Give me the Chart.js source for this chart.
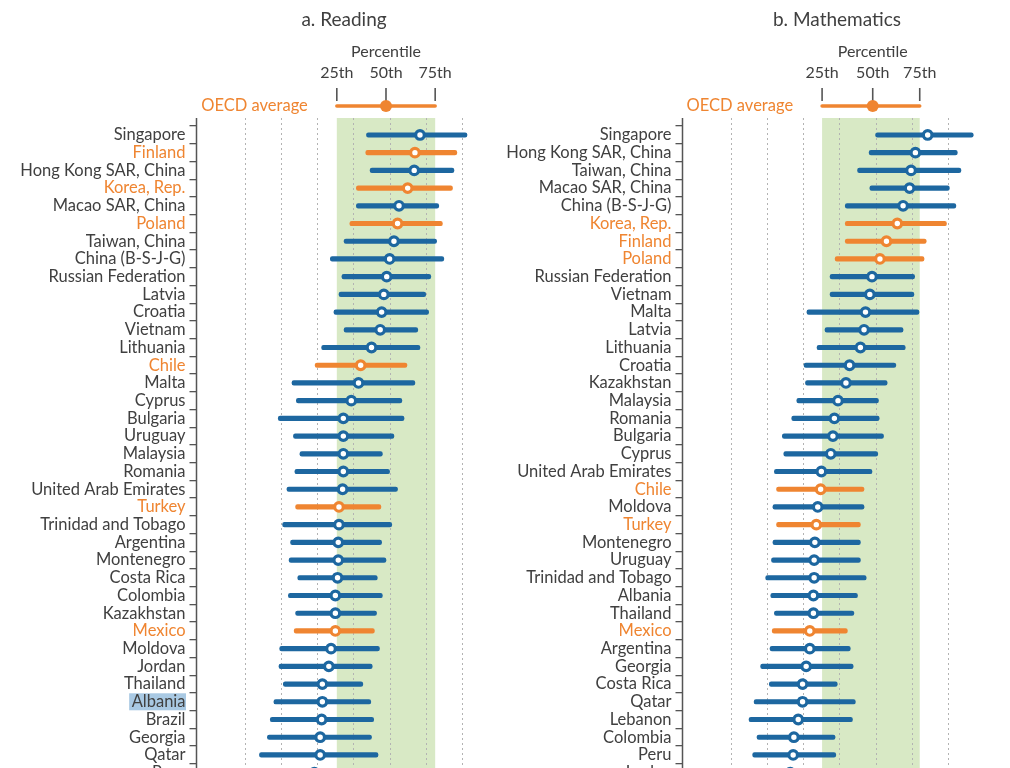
<!DOCTYPE html>
<html>
<head>
<meta charset="utf-8">
<title>Reading and mathematics score distributions</title>
<script src="https://cdn.jsdelivr.net/npm/chart.js@4.4.1/dist/chart.umd.min.js"></script>
<style>
  html, body { margin: 0; padding: 0; background: #fff; overflow: hidden; }
  #page { position: relative; width: 1010px; height: 768px; overflow: hidden; }
  .panel { position: absolute; top: 0; height: 800px; }
  #readingBox { left: 0; width: 490px; }
  #mathBox { left: 490px; width: 520px; }
</style>
</head>
<body>
<div id="page">
  <div class="panel" id="readingBox"><canvas id="reading"></canvas></div>
  <div class="panel" id="mathBox"><canvas id="math"></canvas></div>
</div>
<script>
// a. Reading - 25th, 50th, 75th percentile scores
const readingCountries = [
  "Singapore", "Finland", "Hong Kong SAR, China", "Korea, Rep.", "Macao SAR, China",
  "Poland", "Taiwan, China", "China (B-S-J-G)", "Russian Federation", "Latvia",
  "Croatia", "Vietnam", "Lithuania", "Chile", "Malta", "Cyprus", "Bulgaria",
  "Uruguay", "Malaysia", "Romania", "United Arab Emirates", "Turkey",
  "Trinidad and Tobago", "Argentina", "Montenegro", "Costa Rica", "Colombia",
  "Kazakhstan", "Mexico", "Moldova", "Jordan", "Thailand", "Albania", "Brazil",
  "Georgia", "Qatar", "Peru"
];
const readingP25 = [468, 467, 473, 454, 454, 445, 437, 418, 434, 430, 423, 437, 406, 397, 365, 371, 346, 367, 376, 369, 358, 370, 352, 363, 361, 373, 360, 370, 368, 348, 347, 353, 340, 335, 331, 320, 330];
const readingP50 = [542, 535, 534, 525, 513, 511, 506, 500, 496, 492, 489, 487, 475, 460, 457, 447, 436, 436, 436, 436, 435, 430, 430, 429, 429, 428, 425, 425, 425, 419, 416, 407, 407, 406, 404, 404, 396];
const readingP75 = [607, 593, 589, 587, 568, 573, 565, 575, 557, 550, 554, 539, 542, 524, 535, 517, 520, 506, 490, 500, 511, 488, 503, 489, 495, 483, 490, 482, 479, 486, 476, 463, 474, 478, 475, 484, 462];

// b. Mathematics
const mathCountries = [
  "Singapore", "Hong Kong SAR, China", "Taiwan, China", "Macao SAR, China",
  "China (B-S-J-G)", "Korea, Rep.", "Finland", "Poland", "Russian Federation",
  "Vietnam", "Malta", "Latvia", "Lithuania", "Croatia", "Kazakhstan", "Malaysia",
  "Romania", "Bulgaria", "Cyprus", "United Arab Emirates", "Chile", "Moldova",
  "Turkey", "Montenegro", "Uruguay", "Trinidad and Tobago", "Albania", "Thailand",
  "Mexico", "Argentina", "Georgia", "Costa Rica", "Qatar", "Lebanon", "Colombia",
  "Peru", "Jordan"
];
const mathP25 = [500, 491, 475, 492, 458, 458, 458, 444, 437, 437, 405, 430, 419, 401, 403, 391, 384, 371, 373, 360, 363, 358, 363, 358, 356, 348, 355, 360, 357, 354, 341, 353, 332, 325, 336, 330, 330];
const mathP50 = [572, 555, 549, 547, 538, 530, 515, 506, 495, 492, 486, 484, 479, 464, 459, 448, 443, 441, 438, 425, 424, 420, 418, 416, 415, 415, 414, 414, 409, 409, 404, 399, 399, 393, 387, 386, 382];
const mathP75 = [635, 613, 618, 602, 611, 598, 570, 567, 554, 553, 560, 538, 541, 528, 516, 504, 505, 511, 503, 495, 484, 484, 479, 479, 479, 487, 475, 470, 461, 465, 469, 447, 472, 468, 444, 445, 432];

// OECD average percentiles (25th, 50th, 75th)
const oecdReading = [427, 495, 563];
const oecdMath = [426, 496, 561];
const percentileLabels = ["25th", "50th", "75th"];
const gridScores = [300, 350, 400, 450, 500, 550, 600];

const oecdMembers = ["Finland", "Korea, Rep.", "Poland", "Chile", "Turkey", "Mexico"];
const highlighted = ["Albania"];

const BLUE = "#1d67a0";
const ORANGE = "#ef8531";
const GREEN = "#d8e9c5";
const TEXT = "#404040";
const FONT = "Lato, 'Noto Sans', sans-serif";
const LABEL_SIZE = 16.5;

const panelDecor = {
  id: "panelDecor",
  beforeDraw(chart, args, opts) {
    // selection highlight behind some labels
    const { ctx, scales: { y } } = chart;
    ctx.save();
    ctx.font = LABEL_SIZE + "px " + FONT;
    opts.countries.forEach((name, i) => {
      if (!opts.highlight.includes(name)) return;
      const w = ctx.measureText(name).width;
      const py = y.getPixelForValue(i);
      const right = chart.chartArea.left - 11.5;
      ctx.fillStyle = "#a9c9e3";
      ctx.fillRect(right - w - 2, py - 8.5, w + 3, 17);
    });
    ctx.restore();
  },
  beforeDatasetsDraw(chart, args, opts) {
    const { ctx, chartArea, scales: { x } } = chart;
    const top = opts.frameTop;
    const bottom = chartArea.bottom;
    ctx.save();
    // OECD interquartile band
    const x25 = x.getPixelForValue(opts.oecd[0]);
    const x75 = x.getPixelForValue(opts.oecd[2]);
    ctx.fillStyle = GREEN;
    ctx.fillRect(x25, top, x75 - x25, bottom - top);
    // dotted vertical grid
    ctx.strokeStyle = "#b3b3b3";
    ctx.lineWidth = 1;
    ctx.setLineDash([2, 3]);
    gridScores.forEach((v) => {
      const px = Math.round(x.getPixelForValue(v)) + 0.5;
      ctx.beginPath();
      ctx.moveTo(px, top);
      ctx.lineTo(px, bottom);
      ctx.stroke();
    });
    // y axis line
    ctx.setLineDash([]);
    ctx.strokeStyle = "#555";
    ctx.lineWidth = 1.5;
    ctx.beginPath();
    ctx.moveTo(chartArea.left, top);
    ctx.lineTo(chartArea.left, bottom);
    ctx.stroke();
    ctx.restore();
  },
  afterDraw(chart, args, opts) {
    const { ctx, scales: { x } } = chart;
    const px = opts.oecd.map((v) => x.getPixelForValue(v));
    ctx.save();
    ctx.fillStyle = TEXT;
    ctx.textAlign = "center";
    ctx.textBaseline = "middle";
    ctx.font = "19px " + FONT;
    ctx.fillText(opts.title, opts.titleX, 20);
    ctx.font = "16px " + FONT;
    ctx.fillText("Percentile", px[1], 52);
    percentileLabels.forEach((t, i) => ctx.fillText(t, px[i], 73));
    // percentile ticks
    ctx.strokeStyle = "#555";
    ctx.lineWidth = 1.6;
    px.forEach((p) => {
      ctx.beginPath();
      ctx.moveTo(p, 88);
      ctx.lineTo(p, 101);
      ctx.stroke();
    });
    // OECD average range
    ctx.strokeStyle = ORANGE;
    ctx.lineWidth = 3.5;
    ctx.lineCap = "round";
    ctx.beginPath();
    ctx.moveTo(px[0], 106);
    ctx.lineTo(px[2], 106);
    ctx.stroke();
    ctx.fillStyle = ORANGE;
    ctx.beginPath();
    ctx.arc(px[1], 106, 6, 0, Math.PI * 2);
    ctx.fill();
    ctx.font = "16.5px " + FONT;
    ctx.textAlign = "right";
    ctx.fillText("OECD average", px[0] - 29, 106);
    ctx.restore();
  }
};

function buildPanel(canvasId, cfg) {
  const member = (name) => oecdMembers.includes(name);
  const ranges = cfg.countries.map((c, i) => [cfg.p25[i], cfg.p75[i]]);
  const colors = cfg.countries.map((name) => (member(name) ? ORANGE : BLUE));

  return new Chart(document.getElementById(canvasId), {
    type: "bar",
    data: {
      labels: cfg.countries,
      datasets: [
        {
          type: "line",
          indexAxis: "y",
          label: "Median",
          data: cfg.p50,
          showLine: false,
          pointRadius: 4.3,
          pointBorderWidth: 3.2,
          pointBackgroundColor: "#fff",
          pointBorderColor: colors,
          order: 0
        },
        {
          type: "bar",
          indexAxis: "y",
          label: "25th-75th percentile",
          data: ranges,
          backgroundColor: colors,
          barThickness: 4.5,
          borderRadius: 2.2,
          borderSkipped: false,
          order: 1
        }
      ]
    },
    options: {
      indexAxis: "y",
      responsive: true,
      maintainAspectRatio: false,
      animation: false,
      events: [],
      layout: {
        padding: { top: 126.1, bottom: 18.5, left: 0, right: cfg.padRight }
      },
      scales: {
        x: {
          type: "linear",
          min: 233,
          max: cfg.max,
          display: false
        },
        y: {
          type: "category",
          offset: true,
          afterFit: (scale) => { scale.width = cfg.axisLeft; },
          border: { display: false },
          grid: {
            offset: true,
            drawOnChartArea: false,
            drawTicks: true,
            tickLength: 7,
            color: "#555",
            lineWidth: 1.3
          },
          ticks: {
            autoSkip: false,
            padding: 4,
            font: { family: FONT, size: LABEL_SIZE },
            color: (ctx) => (member(cfg.countries[ctx.index]) ? ORANGE : TEXT)
          }
        }
      },
      plugins: {
        legend: { display: false },
        tooltip: { enabled: false },
        panelDecor: {
          title: cfg.title,
          titleX: cfg.titleX,
          oecd: cfg.oecd,
          frameTop: 118,
          countries: cfg.countries,
          highlight: cfg.highlight
        }
      }
    },
    plugins: [panelDecor]
  });
}

buildPanel("reading", {
  title: "a. Reading",
  titleX: 344,
  countries: readingCountries,
  p25: readingP25,
  p50: readingP50,
  p75: readingP75,
  oecd: oecdReading,
  highlight: highlighted,
  axisLeft: 196.5,
  max: 620,
  padRight: 13.6
});

buildPanel("math", {
  title: "b. Mathematics",
  titleX: 347,
  countries: mathCountries,
  p25: mathP25,
  p50: mathP50,
  p75: mathP75,
  oecd: oecdMath,
  highlight: [],
  axisLeft: 192.5,
  max: 650,
  padRight: 25.9
});
</script>
</body>
</html>
